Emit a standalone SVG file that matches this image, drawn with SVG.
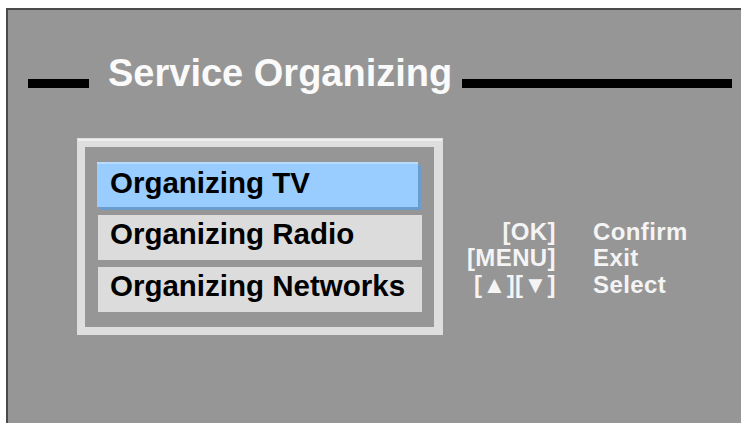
<svg xmlns="http://www.w3.org/2000/svg" width="741" height="423" viewBox="0 0 741 423">
<style>
.t{font-family:"Liberation Sans",Arial,sans-serif;font-weight:bold}
.title{fill:#fafafa;font-size:38px}
.item{fill:#000;font-size:29.5px}
.help{fill:#f4f4f4;font-size:24px;letter-spacing:0.4px}
.bar{fill:#000}
.plain{fill:#dcdcdc}
</style>
<rect x="0" y="0" width="741" height="423" fill="#ffffff"/>
<rect x="7" y="9" width="740" height="420" fill="#969696" stroke="#4a4a4a" stroke-width="2"/>
<g id="title">
<rect class="bar" x="28" y="79" width="61" height="9"/>
<text class="t title" x="108" y="86">Service Organizing</text>
<rect class="bar" x="462" y="79" width="270" height="9"/>
</g>
<g id="panel">
<rect x="77" y="138" width="366" height="197" fill="#dedede"/>
<rect x="78" y="139" width="364" height="2" fill="#eeeeee"/>
<rect x="85" y="147" width="349" height="180" fill="#969696"/>
</g>
<g id="item-tv">
<rect x="100" y="165" width="321" height="45" fill="#6a9ccd"/>
<rect x="97" y="162" width="321" height="45" fill="#99ccff"/>
<rect x="97" y="162" width="321" height="2" fill="#b8dcff"/>
<text class="t item" x="110" y="193">Organizing TV</text>
</g>
<g id="item-radio">
<rect class="plain" x="98" y="215" width="324" height="45"/>
<text class="t item" x="110" y="244">Organizing Radio</text>
</g>
<g id="item-networks">
<rect class="plain" x="98" y="267" width="324" height="45"/>
<text class="t item" x="110" y="296">Organizing Networks</text>
</g>
<g id="help">
<text class="t help" x="556" y="240" text-anchor="end">[OK]</text>
<text class="t help" x="556" y="266" text-anchor="end">[MENU]</text>
<text class="t help" x="556" y="293" text-anchor="end">[▲][▼]</text>
<text class="t help" x="593" y="240">Confirm</text>
<text class="t help" x="593" y="266">Exit</text>
<text class="t help" x="593" y="293">Select</text>
</g>
</svg>
